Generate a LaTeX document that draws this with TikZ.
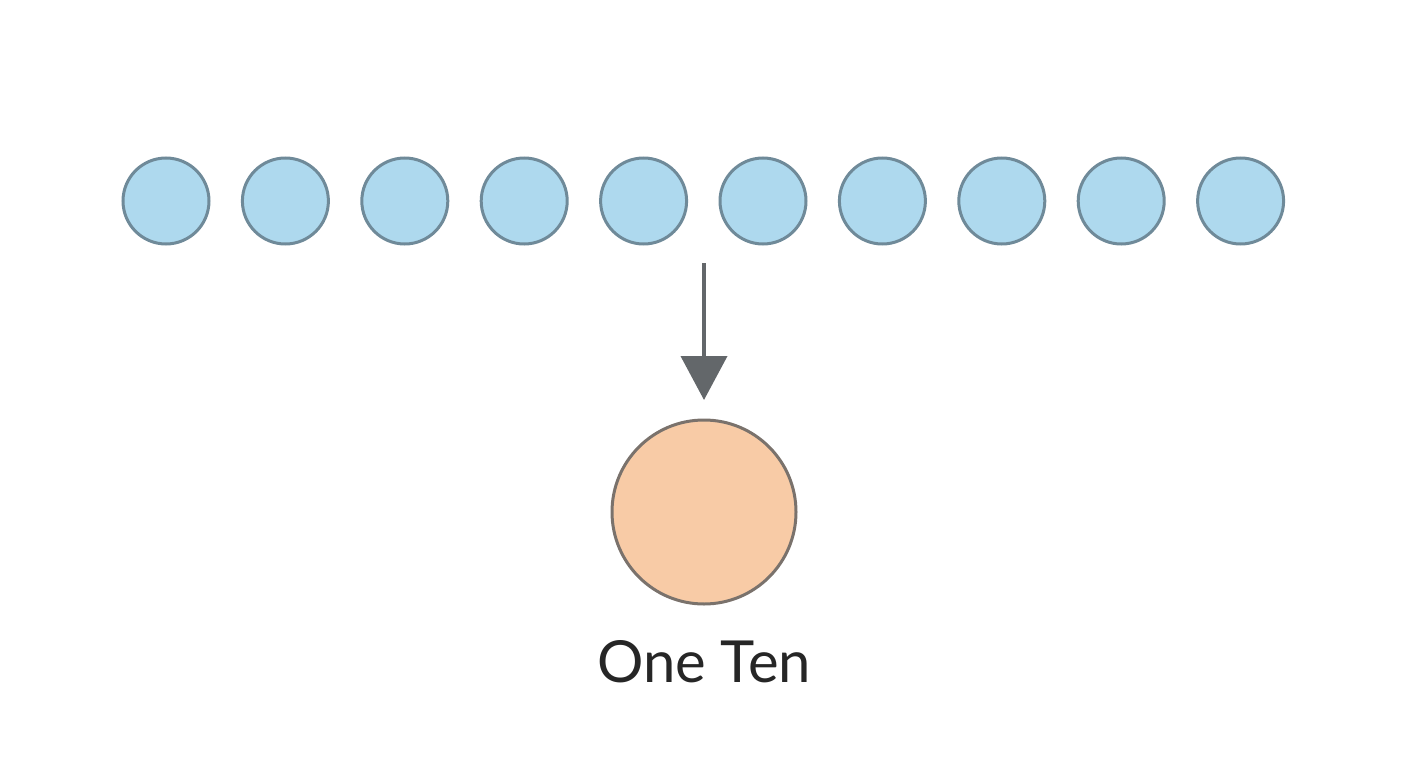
\documentclass[tikz,border=0pt]{standalone}
\usepackage{fontspec}
\setmainfont{Lato}
\usetikzlibrary{arrows.meta}
\definecolor{bfill}{HTML}{AED9EE}
\definecolor{bline}{HTML}{6F8A99}
\definecolor{ofill}{HTML}{F8CBA6}
\definecolor{oline}{HTML}{7A726C}
\definecolor{arr}{HTML}{63676A}
\begin{document}
\begin{tikzpicture}[x=1pt,y=-1pt,
  unit/.style={circle,draw=bline,fill=bfill,line width=3pt,minimum size=86pt,inner sep=0pt},
  ten/.style={circle,draw=oline,fill=ofill,line width=3pt,minimum size=184pt,inner sep=0pt}]
\useasboundingbox (0,0) rectangle (1408,768);
\foreach \i in {0,...,9}{
  \node[unit] (u\i) at (166+119.4*\i,201) {};
}
\node[ten] (t) at (704,512) {};
\node[text=black!85,font=\fontsize{58}{60}\selectfont] (lbl) at (704,662) {One Ten};
\coordinate (a0) at (704,263);
\coordinate (a1) at (704,400);
\draw[arr,line width=4pt,-{Triangle[length=44pt,width=46pt]}] (a0) -- (a1);
\end{tikzpicture}
\end{document}
